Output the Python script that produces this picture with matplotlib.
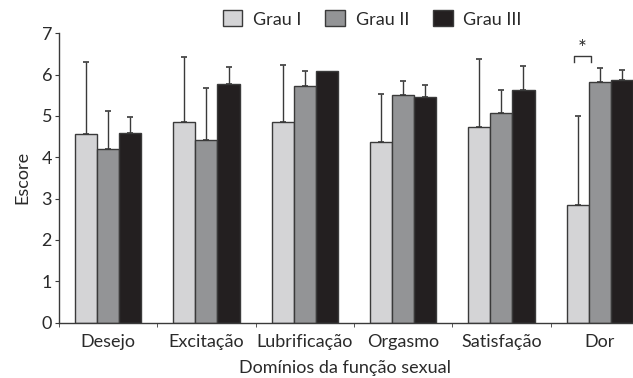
import numpy as np
import matplotlib.pyplot as plt
from matplotlib.patches import Patch

plt.rcParams["font.family"] = ["Lato", "DejaVu Sans"]

dominios = ["Desejo", "Excitação", "Lubrificação", "Orgasmo", "Satisfação", "Dor"]
grupos = ["Grau I", "Grau II", "Grau III"]

grau1 = [4.56, 4.86, 4.85, 4.36, 4.74, 2.84]
grau2 = [4.21, 4.42, 5.72, 5.51, 5.08, 5.83]
grau3 = [4.59, 5.78, 6.09, 5.45, 5.62, 5.86]

dp1 = [1.75, 1.56, 1.38, 1.18, 1.63, 2.16]
dp2 = [0.90, 1.25, 0.37, 0.34, 0.54, 0.33]
dp3 = [0.38, 0.41, 0.00, 0.30, 0.60, 0.26]

cores = ["#d4d4d6", "#939496", "#231f20"]
borda = "#3a3a3a"
texto = "#2a2a2a"
fs = 13

fig = plt.figure(figsize=(6.33, 3.78), dpi=100)
ax = fig.add_axes([0.0932, 0.1468, 0.932, 0.765])

x = np.arange(len(dominios))
largura = 0.224
medias = [grau1, grau2, grau3]
desvios = [dp1, dp2, dp3]

for i in range(3):
    pos = x + (i - 1) * largura
    ax.bar(pos, medias[i], largura, color=cores[i], edgecolor=borda,
           linewidth=1.0, zorder=2)
    err = np.array(desvios[i])
    tem = err > 0
    ax.errorbar(pos[tem], np.array(medias[i])[tem],
                yerr=[np.zeros(tem.sum()), err[tem]], fmt="none",
                ecolor=borda, elinewidth=1.0, capsize=2, capthick=1.2, zorder=1)

# diferenca significativa em Dor (Grau I vs Grau II)
xa, xb = x[5] - 0.26, x[5] - 0.09
ax.plot([xa, xa, xb, xb], [6.31, 6.45, 6.45, 6.31], color=borda, lw=1.0)
ax.text((xa + xb) / 2, 6.38, "*", ha="center", va="bottom", fontsize=15,
        color=texto)

ax.set_xlim(-0.5, 5.5)
ax.set_ylim(0, 7)
ax.set_yticks(range(8))
ax.set_xticks(x)
ax.set_xticklabels(dominios)
ax.set_xticks(np.arange(-0.5, 6.0, 1.0), minor=True)
ax.tick_params(axis="x", which="major", length=0, pad=8, labelsize=fs,
               labelcolor=texto)
ax.tick_params(axis="x", which="minor", length=3, direction="out", color=borda)
ax.tick_params(axis="y", length=3, direction="out", color=borda, pad=2,
               labelsize=fs, labelcolor=texto)

for s in ["top", "right"]:
    ax.spines[s].set_visible(False)
for s in ["left", "bottom"]:
    ax.spines[s].set_color(borda)
    ax.spines[s].set_linewidth(1.0)

ax.set_ylabel("Escore", fontsize=fs, color=texto, labelpad=8)
ax.set_xlabel("Domínios da função sexual", fontsize=fs, color=texto,
              va="center")
ax.xaxis.set_label_coords(286 / 590, -0.157)

handles = [Patch(facecolor=c, edgecolor=borda, linewidth=1.0) for c in cores]
fig.legend(handles, grupos, loc="center", bbox_to_anchor=(0.588, 0.95),
           ncol=3, frameon=False, fontsize=fs, handlelength=1.1,
           handleheight=1.0, handletextpad=0.6, columnspacing=1.3,
           labelcolor=texto)

fig.savefig("out.png", dpi=100)
